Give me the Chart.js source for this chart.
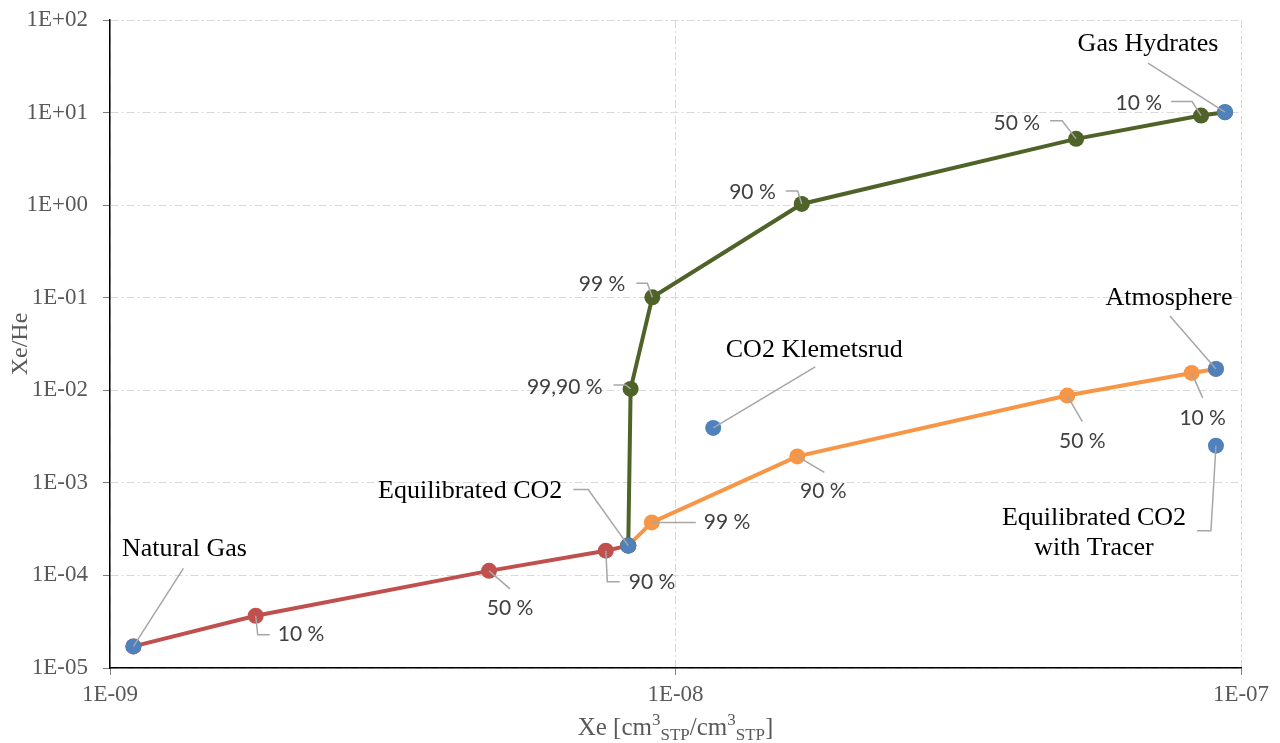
<!DOCTYPE html>
<html>
<head>
<meta charset="utf-8">
<script src="https://cdn.jsdelivr.net/npm/chart.js"></script>
<style>
  html, body { margin: 0; padding: 0; background: #fff; }
  #wrap { width: 1280px; height: 743px; position: relative; }
</style>
</head>
<body>
<div id="wrap"><canvas id="chart"></canvas></div>
<script>
// mixing lines
const redX = [1.1e-9, 1.81e-9, 4.68e-9, 7.53e-9, 8.25e-9];
const redY = [1.71e-5, 3.67e-5, 1.12e-4, 1.85e-4, 2.10e-4];

const orangeX = [8.25e-9, 9.08e-9, 1.642e-8, 4.93e-8, 8.18e-8, 9.03e-8];
const orangeY = [2.10e-4, 3.74e-4, 1.93e-3, 8.77e-3, 1.54e-2, 1.70e-2];

const greenX = [8.25e-9, 8.33e-9, 9.10e-9, 1.672e-8, 5.11e-8, 8.50e-8, 9.37e-8];
const greenY = [2.10e-4, 1.035e-2, 0.101, 1.03, 5.2, 9.29, 10.1];

// end members
const blueNames = ['Natural Gas', 'Equilibrated CO2', 'CO2 Klemetsrud', 'Atmosphere', 'Equilibrated CO2 with Tracer', 'Gas Hydrates'];
const blueX = [1.1e-9, 8.25e-9, 1.166e-8, 9.03e-8, 9.03e-8, 9.37e-8];
const blueY = [1.71e-5, 2.10e-4, 3.92e-3, 1.70e-2, 2.52e-3, 10.1];

const xTicks = [1e-9, 1e-8, 1e-7];
const yTicks = [1e-5, 1e-4, 1e-3, 1e-2, 1e-1, 1, 10, 100];

const series = {
  red: [redX, redY],
  orange: [orangeX, orangeY],
  green: [greenX, greenY],
  blue: [blueX, blueY]
};

const pts = (xs, ys) => xs.map((x, i) => ({ x: x, y: ys[i] }));

const PCT = '21px Lato';
const NAME = '26px "Liberation Serif", "Times New Roman", serif';

// label text, offsets from the point in px, leader path ending at the point
const labels = [
  { s: 'blue', i: 0, text: [blueNames[0]], font: NAME, color: '#000', align: 'center', tx: 51, ty: -97, path: [[50, -78]] },
  { s: 'red', i: 1, text: ['10 %'], font: PCT, color: '#404040', align: 'left', tx: 22, ty: 19, path: [[14, 19], [2, 19]] },
  { s: 'red', i: 2, text: ['50 %'], font: PCT, color: '#404040', align: 'center', tx: 21, ty: 37, path: [[21, 18]] },
  { s: 'red', i: 3, text: ['90 %'], font: PCT, color: '#404040', align: 'left', tx: 23, ty: 32, path: [[14, 31], [1.5, 31]] },
  { s: 'blue', i: 1, text: [blueNames[1]], font: NAME, color: '#000', align: 'right', tx: -66, ty: -54, path: [[-55, -56], [-40, -56]] },
  { s: 'orange', i: 1, text: ['99 %'], font: PCT, color: '#404040', align: 'left', tx: 52, ty: 0, path: [[44, 0]] },
  { s: 'orange', i: 2, text: ['90 %'], font: PCT, color: '#404040', align: 'center', tx: 26, ty: 35, path: [[27, 16]] },
  { s: 'orange', i: 3, text: ['50 %'], font: PCT, color: '#404040', align: 'center', tx: 15, ty: 46, path: [[15, 26]] },
  { s: 'orange', i: 4, text: ['10 %'], font: PCT, color: '#404040', align: 'center', tx: 11, ty: 45, path: [[11, 25]] },
  { s: 'blue', i: 3, text: [blueNames[3]], font: NAME, color: '#000', align: 'center', tx: -47, ty: -71, path: [[-46, -53]] },
  { s: 'blue', i: 4, text: ['Equilibrated CO2', 'with Tracer'], font: NAME, color: '#000', align: 'center', tx: -122, ty: 72, lh: 30, path: [[-19, 85], [-5, 85]] },
  { s: 'blue', i: 2, text: [blueNames[2]], font: NAME, color: '#000', align: 'center', tx: 101, ty: -78, path: [[102, -61]] },
  { s: 'green', i: 1, text: ['99,90 %'], font: PCT, color: '#404040', align: 'right', tx: -28, ty: -2, path: [[-17, -4], [-5, -4]] },
  { s: 'green', i: 2, text: ['99 %'], font: PCT, color: '#404040', align: 'right', tx: -27, ty: -13, path: [[-16, -14], [-5, -14]] },
  { s: 'green', i: 3, text: ['90 %'], font: PCT, color: '#404040', align: 'right', tx: -26, ty: -12, path: [[-16, -13], [-4, -13]] },
  { s: 'green', i: 4, text: ['50 %'], font: PCT, color: '#404040', align: 'right', tx: -36, ty: -16, path: [[-26, -18], [-14, -18]] },
  { s: 'green', i: 5, text: ['10 %'], font: PCT, color: '#404040', align: 'right', tx: -39, ty: -12, path: [[-30, -14], [-9, -14]] },
  { s: 'blue', i: 5, text: [blueNames[5]], font: NAME, color: '#000', align: 'center', tx: -77, ty: -68, path: [[-77, -49]] }
];

const labelPlugin = {
  id: 'leaders',
  afterDatasetsDraw(chart) {
    const ctx = chart.ctx, xs = chart.scales.x, ys = chart.scales.y;
    ctx.save();
    labels.forEach(l => {
      const px = xs.getPixelForValue(series[l.s][0][l.i]);
      const py = ys.getPixelForValue(series[l.s][1][l.i]);
      ctx.beginPath();
      ctx.strokeStyle = '#a6a6a6';
      ctx.lineWidth = 1.5;
      ctx.moveTo(px + l.path[0][0], py + l.path[0][1]);
      for (let k = 1; k < l.path.length; k++) ctx.lineTo(px + l.path[k][0], py + l.path[k][1]);
      ctx.lineTo(px, py);
      ctx.stroke();
      ctx.font = l.font;
      ctx.fillStyle = l.color;
      ctx.textAlign = l.align;
      ctx.textBaseline = 'middle';
      l.text.forEach((t, k) => ctx.fillText(t, px + l.tx, py + l.ty + k * (l.lh || 0)));
    });
    ctx.restore();
  }
};

// axis titles with super/subscripts
const titlePlugin = {
  id: 'titles',
  afterDraw(chart) {
    const ctx = chart.ctx, a = chart.chartArea;
    ctx.save();
    ctx.fillStyle = '#595959';
    ctx.textBaseline = 'alphabetic';
    const big = '25px "Liberation Serif", serif', small = '17px "Liberation Serif", serif';
    const parts = [['Xe [cm', big, 0], ['3', small, -10], ['STP', small, 5], ['/cm', big, 0], ['3', small, -10], ['STP', small, 5], [']', big, 0]];
    let w = 0;
    parts.forEach(p => { ctx.font = p[1]; w += ctx.measureText(p[0]).width; });
    let x = (a.left + a.right) / 2 - w / 2;
    const base = 735;
    ctx.textAlign = 'left';
    parts.forEach(p => { ctx.font = p[1]; ctx.fillText(p[0], x, base + p[2]); x += ctx.measureText(p[0]).width; });
    ctx.translate(21, (a.top + a.bottom) / 2);
    ctx.rotate(-Math.PI / 2);
    ctx.font = '24px "Liberation Serif", serif';
    ctx.textAlign = 'center';
    ctx.textBaseline = 'middle';
    ctx.fillText('Xe/He', 0, 0);
    ctx.restore();
  }
};

const fmt = v => {
  const e = Math.round(Math.log10(v));
  return '1E' + (e < 0 ? '-' : '+') + String(Math.abs(e)).padStart(2, '0');
};

const gridOpts = {
  color: '#d9d9d9',
  lineWidth: 1,
  drawTicks: true,
  tickLength: 7,
  tickColor: '#7f7f7f',
  tickWidth: 1,
  tickBorderDash: []
};

new Chart(document.getElementById('chart'), {
  type: 'scatter',
  data: {
    datasets: [
      { data: pts(blueX, blueY), backgroundColor: '#4f81bd', borderColor: '#4f81bd', pointRadius: 8, borderWidth: 0, showLine: false, order: 0 },
      { data: pts(greenX, greenY), backgroundColor: '#4f6228', borderColor: '#4f6228', pointRadius: 8, borderWidth: 4, pointBorderWidth: 0, showLine: true, order: 1 },
      { data: pts(orangeX, orangeY), backgroundColor: '#f79646', borderColor: '#f79646', pointRadius: 8, borderWidth: 4, pointBorderWidth: 0, showLine: true, order: 2 },
      { data: pts(redX, redY), backgroundColor: '#c0504d', borderColor: '#c0504d', pointRadius: 8, borderWidth: 4, pointBorderWidth: 0, showLine: true, order: 3 }
    ]
  },
  options: {
    responsive: true,
    maintainAspectRatio: false,
    animation: false,
    layout: { padding: { left: 0, top: 20, right: 39, bottom: 0 } },
    plugins: { legend: { display: false }, tooltip: { enabled: false } },
    scales: {
      x: {
        type: 'logarithmic',
        min: 1e-9, max: 1e-7,
        afterBuildTicks: s => { s.ticks = xTicks.map(v => ({ value: v })); },
        afterFit: s => { s.height = 75; s.paddingLeft = 0; s.paddingRight = 0; },
        grid: Object.assign({}, gridOpts),
        border: { display: true, color: '#000', width: 1.5, dash: [8, 3, 2, 3] },
        ticks: { callback: v => fmt(v), color: '#595959', font: { family: '"Liberation Serif", serif', size: 23 }, padding: 6, maxRotation: 0, autoSkip: false }
      },
      y: {
        type: 'logarithmic',
        min: 1e-5, max: 100,
        afterBuildTicks: s => { s.ticks = yTicks.map(v => ({ value: v })); },
        afterFit: s => { s.width = 110; s.paddingTop = 0; s.paddingBottom = 0; },
        grid: Object.assign({}, gridOpts),
        border: { display: true, color: '#000', width: 1.5, dash: [8, 3, 2, 3] },
        ticks: { callback: v => fmt(v), color: '#595959', font: { family: '"Liberation Serif", serif', size: 23 }, padding: 15, autoSkip: false }
      }
    }
  },
  plugins: [labelPlugin, titlePlugin]
});
</script>
</body>
</html>
